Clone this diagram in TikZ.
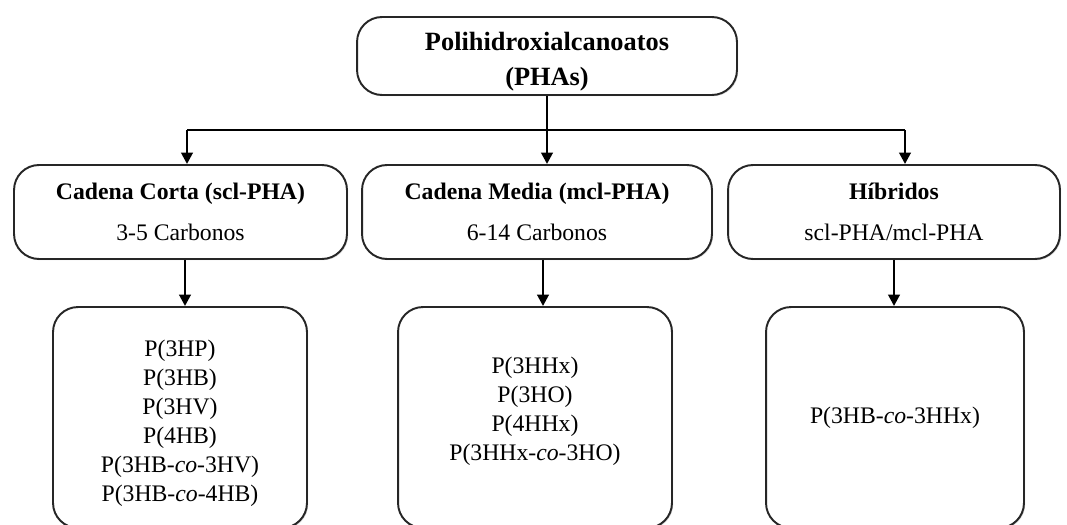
\documentclass[tikz,border=0pt]{standalone}
\usepackage{fontspec}
\setmainfont{Liberation Serif}
\usetikzlibrary{shadows,arrows.meta}
\tikzset{
 caja/.style={draw=black!85, line width=1.1pt, rounded corners=0.5cm, fill=white, align=center, inner sep=0pt,
  drop shadow={opacity=0.3, shadow xshift=0.7pt, shadow yshift=-0.7pt}},
 flecha/.style={-{Triangle[length=6.5pt,width=6.5pt]}, line width=1.5pt},
 linea/.style={line width=1.5pt},
}
\begin{document}
\begin{tikzpicture}[x=0.02cm,y=-0.02cm]
 \useasboundingbox (0,0) rectangle (1067,524);
 \clip (0,0) rectangle (1067,524);
 \node[caja, minimum width=7.6cm, minimum height=1.56cm, font=\fontsize{15}{17}\selectfont\bfseries] (pha) at (547,56) {\rule{0pt}{17pt}Polihidroxialcanoatos\\[3pt](PHAs)};
 \node[caja, minimum width=6.66cm, minimum height=1.88cm, font=\fontsize{13.5}{16}\selectfont] (scl) at (180.5,212) {\textbf{Cadena Corta (scl-PHA)}\\[7pt]3-5 Carbonos};
 \node[caja, minimum width=7.0cm, minimum height=1.88cm, font=\fontsize{13.5}{16}\selectfont] (mcl) at (537,212) {\textbf{Cadena Media (mcl-PHA)}\\[7pt]6-14 Carbonos};
 \node[caja, minimum width=6.64cm, minimum height=1.88cm, font=\fontsize{13.5}{16}\selectfont] (hib) at (894,212) {\textbf{Híbridos}\\[7pt]scl-PHA/mcl-PHA};
 \node[caja, minimum width=5.08cm, minimum height=4.42cm, font=\fontsize{13.5}{16.5}\selectfont] (ej-scl) at (180,417.5) {\rule{0pt}{16pt}P(3HP)\\P(3HB)\\P(3HV)\\P(4HB)\\P(3HB-\textit{co}-3HV)\\P(3HB-\textit{co}-4HB)};
 \node[caja, minimum width=5.48cm, minimum height=4.42cm, font=\fontsize{13.5}{16.5}\selectfont] (ej-mcl) at (535,417.5) {P(3HHx)\\P(3HO)\\P(4HHx)\\P(3HHx-\textit{co}-3HO)\rule[-10pt]{0pt}{10pt}};
 \node[caja, minimum width=5.16cm, minimum height=4.42cm, font=\fontsize{13.5}{16.5}\selectfont] (ej-hib) at (895,417.5) {P(3HB-\textit{co}-3HHx)};
 \draw[linea] (pha.south) -- ++(0,34) coordinate (bus);
 \draw[linea] ([xshift=0.13cm]bus -| scl.north) -- ([xshift=0.22cm]bus -| hib.north);
 \draw[flecha] ([xshift=0.13cm]bus -| scl.north) -- ([xshift=0.13cm]scl.north);
 \draw[flecha] (bus) -- (bus |- mcl.north);
 \draw[flecha] ([xshift=0.22cm]bus -| hib.north) -- ([xshift=0.22cm]hib.north);
 \draw[flecha] ([xshift=0.09cm]scl.south) -- ([xshift=0.09cm]ej-scl.north -| scl.south);
 \draw[flecha] ([xshift=0.12cm]mcl.south) -- ([xshift=0.12cm]ej-mcl.north -| mcl.south);
 \draw[flecha] (hib.south) -- (ej-hib.north -| hib.south);
\end{tikzpicture}
\end{document}
